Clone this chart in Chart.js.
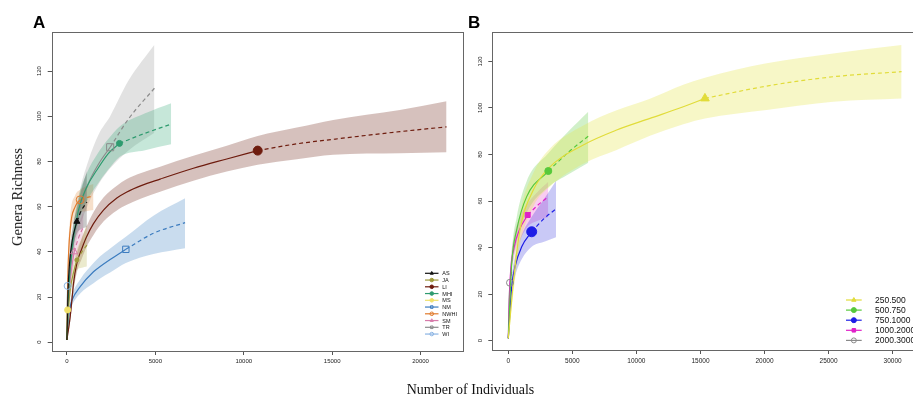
<!DOCTYPE html>
<html><head><meta charset="utf-8">
<script src="https://cdn.jsdelivr.net/npm/chart.js@4.4.1/dist/chart.umd.min.js"></script>
<style>
html,body{margin:0;padding:0;width:913px;height:396px;overflow:hidden;background:#fff;}
#wrap{position:relative;width:913px;height:396px;overflow:hidden;}
canvas{position:absolute;top:0;}
#cA{left:0;}
#cB{left:470px;}
.lbl{position:absolute;font-family:"Liberation Sans",Arial,sans-serif;font-weight:bold;font-size:17px;line-height:17px;color:#000;}
.ttl{position:absolute;font-family:"Liberation Serif","Times New Roman",serif;font-size:14px;line-height:14px;color:#111;white-space:nowrap;}
</style></head><body>
<div id="wrap">
<canvas id="cA" width="470" height="396"></canvas>
<canvas id="cB" width="460" height="396"></canvas>
<div class="lbl" style="left:33px;top:13.5px">A</div>
<div class="lbl" style="left:468px;top:13.5px">B</div>
<div class="ttl" style="left:470.5px;top:383px;transform:translateX(-50%)">Number of Individuals</div>
<div class="ttl" style="left:17px;top:197px;font-size:14.5px;transform:translate(-50%,-50%) rotate(-90deg)">Genera Richness</div>
</div>
<script>
// ---------------- Panel A data (sample size n, richness s, CI lo/hi, observed n) ----------------
const A_X_TICKS = [0, 5000, 10000, 15000, 20000];
const A_Y_TICKS = [0, 20, 40, 60, 80, 100, 120];

const AS_n  = [1, 60, 150, 300, 565, 800, 1130];
const AS_s  = [1, 22, 35, 45, 53.4, 58, 62];
const AS_lo = [1, 18, 30, 40, 48, 50, 51];
const AS_hi = [1, 26, 40, 50, 59, 67, 75.5];
const AS_obs = 565;

const JA_n  = [1, 80, 200, 380, 565, 850, 1130];
const JA_s  = [1, 14, 24, 31, 36.4, 40, 43];
const JA_lo = [1, 11, 20, 27, 32, 33, 33.5];
const JA_hi = [1, 17, 28, 35, 41, 46.5, 52];
const JA_obs = 565;

const LI_n  = [1, 186, 282, 373, 565, 847, 1100, 1503, 2068, 2825, 3390, 4200, 5271, 7153, 9040, 10790, 13000, 15062, 18830, 21469];
const LI_s  = [1, 11.3, 18.7, 26, 35, 41.5, 46.5, 52.5, 58.5, 63.8, 66.5, 69.3, 72.2, 77, 81.1, 84.8, 87.8, 89.8, 93.2, 95.3];
const LI_lo = [1, 9, 16, 22.5, 31, 37, 42, 47.5, 53.4, 58.3, 60.8, 63.6, 66.6, 71.5, 75.5, 78.5, 81, 83, 83.6, 84.1];
const LI_hi = [1, 13.5, 21.5, 29.5, 39, 46, 51, 57.5, 64, 69.3, 72.2, 74.9, 77.7, 82.5, 87, 91.3, 95, 98.4, 102.8, 106.6];
const LI_obs = 10790;

const MHI_n  = [1, 100, 300, 655, 1130, 1695, 2350, 2972, 4424, 5893];
const MHI_s  = [1, 22, 42, 58.5, 68.8, 76.2, 83.6, 88, 92.5, 96.5];
const MHI_lo = [1, 18, 37, 53, 62.5, 69.5, 76.5, 82, 85, 87.6];
const MHI_hi = [1, 26, 47, 64, 75, 83, 90, 95.4, 101.3, 105.8];
const MHI_obs = 2972;

const MS_n  = [1, 15, 40, 80];
const MS_s  = [1, 9, 14.3, 18];
const MS_lo = [1, 7, 11, 12];
const MS_hi = [1, 11, 17, 24];
const MS_obs = 40;

const NM_n  = [1, 100, 186, 282, 751, 1503, 1881, 2446, 3333, 4893, 6684];
const NM_s  = [1, 11, 15.8, 18.5, 24.6, 31.2, 33.5, 36.6, 41.1, 48.2, 52.9];
const NM_lo = [1, 9, 13.5, 16, 21.5, 26.1, 28.2, 30.8, 35, 39, 41.6];
const NM_hi = [1, 13, 18, 21, 27.8, 35, 38, 41.5, 46.7, 56, 63.7];
const NM_obs = 3333;

const NWHI_n  = [1, 20, 56, 186, 469, 751, 1100, 1503];
const NWHI_s  = [1, 12, 30, 50, 60, 63, 64, 64.7];
const NWHI_lo = [1, 10, 26, 45, 55, 57.5, 58, 58.5];
const NWHI_hi = [1, 14, 34, 55, 65, 67.5, 69, 70];
const NWHI_obs = 751;

const SM_n  = [1, 60, 150, 280, 412, 650, 938];
const SM_s  = [1, 14, 25, 33.5, 40, 46, 51.2];
const SM_lo = [1, 11, 21, 29, 35, 39, 43];
const SM_hi = [1, 17, 29, 38, 45, 52, 58];
const SM_obs = 412;

const TR_n  = [1, 100, 300, 700, 1200, 1800, 2446, 3500, 4949];
const TR_s  = [1, 20, 40, 58, 70, 79, 86.3, 99, 112.4];
const TR_lo = [1, 16, 34, 50, 61, 70, 77, 85, 92.7];
const TR_hi = [1, 24, 46, 66, 80, 92, 100, 116, 131.7];
const TR_obs = 2446;

const WI_n  = [1, 15, 40, 100];
const WI_s  = [1, 14, 24.9, 32];
const WI_lo = [1, 11, 21, 26];
const WI_hi = [1, 17, 29, 38];
const WI_obs = 40;

// ---------------- Panel B data ----------------
const B_X_TICKS = [0, 5000, 10000, 15000, 20000, 25000, 30000];
const B_Y_TICKS = [0, 20, 40, 60, 80, 100, 120];

const G250_n  = [1, 390, 913, 1951, 3254, 5853, 8459, 11058, 13657, 15350, 20165, 25363, 30700];
const G250_s  = [1, 24.7, 47.6, 64.7, 74.7, 84.1, 90.5, 95.5, 100.5, 104.1, 109.4, 113.4, 115.6];
const G250_lo = [1, 20, 41, 57.6, 66.2, 76, 81.9, 88, 93, 95.5, 99.1, 102.7, 104.1];
const G250_hi = [1, 29, 54, 72, 82.6, 92.5, 99, 104, 110, 113, 119.2, 123.4, 127];
const G250_obs = 15350;

const G500_n  = [1, 265, 655, 1436, 3122, 4700, 6243];
const G500_s  = [1, 33.2, 47.6, 61.9, 72.9, 81, 87.9];
const G500_lo = [1, 29, 42, 55, 66, 71.5, 76.5];
const G500_hi = [1, 37, 53, 68.5, 80.5, 90, 98.4];
const G500_obs = 3122;

const G750_n  = [1, 265, 523, 1046, 1826, 2800, 3722];
const G750_s  = [1, 23.2, 31.8, 40.4, 46.8, 52.5, 56.6];
const G750_lo = [1, 19.5, 27.5, 35, 40.4, 42.5, 44.4];
const G750_hi = [1, 27, 36, 45.5, 53.3, 61, 68.6];
const G750_obs = 1826;

const G1000_n  = [1, 150, 450, 900, 1514, 2300, 3122];
const G1000_s  = [1, 27, 40, 48, 54, 58.2, 61.9];
const G1000_lo = [1, 24, 35.5, 43, 49, 51.5, 53];
const G1000_hi = [1, 30, 44.5, 53, 59, 64, 68.3];
const G1000_obs = 1514;

const G2000_n  = [1, 60, 133, 266];
const G2000_s  = [1, 17, 24.9, 30];
const G2000_lo = [1, 14, 21, 24];
const G2000_hi = [1, 20, 29, 36];
const G2000_obs = 133;

// ---------------- styles ----------------
const A_SERIES = [
  {label:'AS',   n:AS_n,   s:AS_s,   lo:AS_lo,   hi:AS_hi,   obs:AS_obs,   color:'#111111', band:'rgba(60,60,60,0.28)',    ps:'triangle', r:3.5, filled:true},
  {label:'JA',   n:JA_n,   s:JA_s,   lo:JA_lo,   hi:JA_hi,   obs:JA_obs,   color:'#9E9A3C', band:'rgba(190,185,90,0.30)',  ps:'circle',   r:2,   filled:true},
  {label:'LI',   n:LI_n,   s:LI_s,   lo:LI_lo,   hi:LI_hi,   obs:LI_obs,   color:'#6E1C0E', band:'rgba(120,50,35,0.30)',   ps:'circle',   r:4.5, filled:true},
  {label:'MHI',  n:MHI_n,  s:MHI_s,  lo:MHI_lo,  hi:MHI_hi,  obs:MHI_obs,  color:'#2E9B6F', band:'rgba(50,170,120,0.28)',  ps:'circle',   r:3,   filled:true},
  {label:'MS',   n:MS_n,   s:MS_s,   lo:MS_lo,   hi:MS_hi,   obs:MS_obs,   color:'#F0E06A', band:'rgba(240,225,100,0.30)', ps:'circle',   r:3,   filled:true},
  {label:'NM',   n:NM_n,   s:NM_s,   lo:NM_lo,   hi:NM_hi,   obs:NM_obs,   color:'#3C7CBF', band:'rgba(60,130,195,0.28)',  ps:'rect',     r:4.5, filled:false},
  {label:'NWHI', n:NWHI_n, s:NWHI_s, lo:NWHI_lo, hi:NWHI_hi, obs:NWHI_obs, color:'#E07A2C', band:'rgba(225,150,80,0.30)',  ps:'circle',   r:4,   filled:false},
  {label:'SM',   n:SM_n,   s:SM_s,   lo:SM_lo,   hi:SM_hi,   obs:SM_obs,   color:'#D77BAA', band:'rgba(220,130,180,0.28)', ps:'triangle', r:4,   filled:false},
  {label:'TR',   n:TR_n,   s:TR_s,   lo:TR_lo,   hi:TR_hi,   obs:TR_obs,   color:'#8C8C8C', band:'rgba(150,150,150,0.28)', ps:'rect',     r:5,   filled:false},
  {label:'WI',   n:WI_n,   s:WI_s,   lo:WI_lo,   hi:WI_hi,   obs:WI_obs,   color:'#8BB4E3', band:'rgba(140,180,230,0.30)', ps:'circle',   r:3.5, filled:false}
];
const B_SERIES = [
  {label:'250.500',   n:G250_n,  s:G250_s,  lo:G250_lo,  hi:G250_hi,  obs:G250_obs,  color:'#E1DC3A', band:'rgba(230,230,80,0.32)', ps:'triangle', r:5,   filled:true},
  {label:'500.750',   n:G500_n,  s:G500_s,  lo:G500_lo,  hi:G500_hi,  obs:G500_obs,  color:'#56C93A', band:'rgba(90,200,60,0.28)',  ps:'circle',   r:3.5, filled:true},
  {label:'750.1000',  n:G750_n,  s:G750_s,  lo:G750_lo,  hi:G750_hi,  obs:G750_obs,  color:'#1E1EE6', band:'rgba(40,40,220,0.25)',  ps:'circle',   r:5,   filled:true},
  {label:'1000.2000', n:G1000_n, s:G1000_s, lo:G1000_lo, hi:G1000_hi, obs:G1000_obs, color:'#E020C8', band:'rgba(230,50,200,0.25)', ps:'rect',     r:3.5, filled:true},
  {label:'2000.3000', n:G2000_n, s:G2000_s, lo:G2000_lo, hi:G2000_hi, obs:G2000_obs, color:'#8A8A8A', band:'rgba(140,140,140,0.30)', ps:'circle',  r:3.5, filled:false}
];

function buildDatasets(series) {
  const out = [];
  series.forEach(st => {
    const pts = arr => st.n.map((x, i) => ({x: x, y: arr[i]}));
    const curve = pts(st.s);
    const oi = st.n.indexOf(st.obs);
    const common = {pointRadius:0, pointHoverRadius:0, cubicInterpolationMode:'monotone'};
    out.push(Object.assign({}, common, {data: pts(st.lo), borderColor:'rgba(0,0,0,0)', borderWidth:1, fill:false, order:3}));
    out.push(Object.assign({}, common, {data: pts(st.hi), borderColor:'rgba(0,0,0,0)', borderWidth:1, fill:'-1', backgroundColor: st.band, order:3}));
    out.push(Object.assign({}, common, {data: curve.filter(p => p.x <= st.obs), borderColor: st.color, borderWidth:1.2, fill:false, order:2}));
    out.push(Object.assign({}, common, {data: curve.filter(p => p.x >= st.obs), borderColor: st.color, borderWidth:1.2, borderDash:[4,3], fill:false, order:2}));
    out.push({data:[curve[oi]], showLine:false, fill:false, order:1, pointStyle: st.ps, pointRadius: st.r, pointHoverRadius: st.r,
      pointBackgroundColor: st.filled ? st.color : 'rgba(0,0,0,0)', pointBorderColor: st.color, pointBorderWidth: 1});
  });
  return out;
}

const boxPlugin = {
  id: 'rbox',
  afterDraw(chart) {
    const a = chart.chartArea, ctx = chart.ctx;
    ctx.save();
    ctx.strokeStyle = '#666';
    ctx.lineWidth = 1;
    ctx.strokeRect(Math.round(a.left) + 0.5, Math.round(a.top) + 0.5, Math.round(a.right - a.left), Math.round(a.bottom - a.top));
    ctx.restore();
  }
};

const legendPlugin = {
  id: 'rlegend',
  afterDraw(chart, args, o) {
    const ctx = chart.ctx;
    ctx.save();
    o.items.forEach((st, i) => {
      const y = o.y + i * o.dy;
      ctx.strokeStyle = st.color;
      ctx.lineWidth = 1.2;
      ctx.beginPath(); ctx.moveTo(o.x0, y); ctx.lineTo(o.x1, y); ctx.stroke();
      ctx.fillStyle = st.filled ? st.color : 'rgba(0,0,0,0)';
      ctx.lineWidth = 1;
      if (Chart.helpers && Chart.helpers.drawPoint) {
        Chart.helpers.drawPoint(ctx, {pointStyle: st.ps, radius: o.mr, rotation: 0, borderWidth: 1}, (o.x0 + o.x1) / 2, y);
      }
      ctx.fillStyle = '#111';
      ctx.font = o.font + 'px "Liberation Sans", Arial, sans-serif';
      ctx.textBaseline = 'middle';
      ctx.textAlign = 'left';
      ctx.fillText(st.label, o.tx, y + 0.5);
    });
    ctx.restore();
  }
};

function makeOptions(cfg) {
  return {
    responsive: false,
    animation: false,
    devicePixelRatio: 1,
    events: [],
    layout: {padding: cfg.pad},
    plugins: {legend: {display:false}, tooltip: {enabled:false}, rlegend: cfg.legend},
    scales: {
      x: {
        type:'linear', min: cfg.xmin, max: cfg.xmax,
        afterBuildTicks: s => { s.ticks = cfg.xticks.map(v => ({value: v})); },
        afterFit: s => { s.height = cfg.xh; },
        grid: {display:true, drawOnChartArea:false, drawTicks:true, tickLength:4, color:'#555'},
        border: {display:false},
        ticks: {font:{size: cfg.xfont, family:'"Liberation Sans", Arial, sans-serif'}, color:'#222', padding:3, maxRotation:0, minRotation:0,
                callback: v => String(v)}
      },
      y: {
        type:'linear', min: cfg.ymin, max: cfg.ymax,
        afterBuildTicks: s => { s.ticks = cfg.yticks.map(v => ({value: v})); },
        afterFit: s => { s.width = cfg.yw; },
        grid: {display:true, drawOnChartArea:false, drawTicks:true, tickLength:4, color:'#555'},
        border: {display:false},
        ticks: {font:{size: 6, family:'"Liberation Sans", Arial, sans-serif'}, color:'#222', padding:3, minRotation:90, maxRotation:90, crossAlign:'center',
                callback: v => String(v)}
      }
    }
  };
}

new Chart(document.getElementById('cA'), {
  type: 'line',
  data: {datasets: buildDatasets(A_SERIES)},
  options: makeOptions({
    pad: {top:32, right:7, left:0, bottom:0},
    xmin: -860, xmax: 22400, ymin: -3.9, ymax: 137.3,
    xticks: A_X_TICKS, yticks: A_Y_TICKS, xh: 45, yw: 51.7, xfont: 6,
    legend: {items: A_SERIES, x0: 425, x1: 438.5, tx: 442.3, y: 273.3, dy: 6.75, font: 5.5, mr: 1.8}
  }),
  plugins: [boxPlugin, legendPlugin]
});

new Chart(document.getElementById('cB'), {
  type: 'line',
  data: {datasets: buildDatasets(B_SERIES)},
  options: makeOptions({
    pad: {top:32.3, right:6, left:0, bottom:0},
    xmin: -1249, xmax: 32450, ymin: -4, ymax: 132.5,
    xticks: B_X_TICKS, yticks: B_Y_TICKS, xh: 46, yw: 22.3, xfont: 6.5,
    legend: {items: B_SERIES, x0: 376, x1: 391.7, tx: 405, y: 300, dy: 10.1, font: 8.5, mr: 2.5}
  }),
  plugins: [boxPlugin, legendPlugin]
});
</script>
</body></html>
